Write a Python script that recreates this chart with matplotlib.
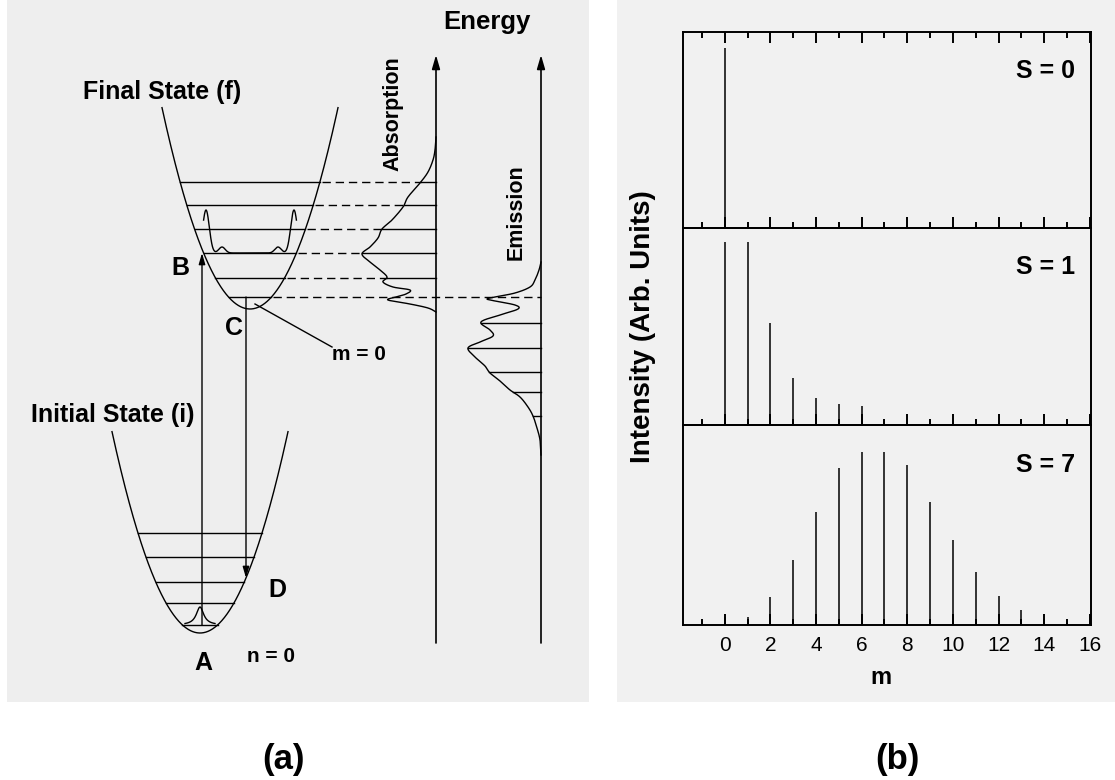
import numpy as np
import matplotlib
matplotlib.use("Agg")
import matplotlib.pyplot as plt
from matplotlib.patches import Rectangle

plt.rcParams['font.family'] = ['Liberation Sans', 'DejaVu Sans']

W, H = 1115, 780

# ---------------- (a) configuration-coordinate diagram ----------------
# x = configuration coordinate Q, y = energy (both in drawing units)
curvature = 0.026
initial_min = (200, 69)
final_min = (250, 393)
parabola_half_width = 88
initial_levels = [77, 99, 120, 145, 169]
final_levels = [405, 424, 449, 473, 497, 520]

absorption_axis_q = 436
emission_axis_q = 541
energy_axis_span = (59, 647)

# absorption band: energy vs. intensity (drawn leftwards from its axis)
absorption_E = [390, 394, 398, 402, 405, 408, 412, 415, 420, 425, 432, 440,
                448, 455, 464, 473, 482, 495, 505, 519, 530, 542, 552, 565]
absorption_I = [0, 8, 26, 48, 40, 30, 26, 43, 53, 49, 56, 66,
                74, 66, 58, 54, 44, 33, 28, 16, 8, 3, 1, 0]

# emission band
emission_E = [247, 262, 274, 286, 295, 305, 312, 321, 329, 336, 345, 354,
              360, 366, 372, 380, 387, 393, 397, 401, 403, 405, 409, 415,
              422, 432, 440]
emission_I = [0, 1, 4, 8, 13, 21, 31, 41, 51, 56, 66, 73,
              61, 48, 51, 60, 41, 23, 26, 46, 54, 46, 26, 11,
              6, 2, 0]
emission_lines = [379, 354, 330, 310, 286]

# probability density drawn on final level index 2
wave_level = 2
wave_offsets = [-44, -28, 28, 44]
wave_heights = [43, 6, 6, 43]
wave_sigma = [3.3, 3.2, 3.2, 3.3]
ground_height = 18
ground_width = 4.5

absorb_q = 202
emit_q = 246


def parabola(q, centre):
    return centre[1] + curvature * (q - centre[0]) ** 2


def branches(E, centre):
    d = np.sqrt((E - centre[1]) / curvature)
    return centre[0] - d, centre[0] + d


def catmull_rom(xs, ys, n=14):
    """Smooth pen-style curve through the given points."""
    P = np.column_stack([xs, ys]).astype(float)
    P = np.vstack([P[0], P, P[-1]])
    t = np.linspace(0, 1, n, endpoint=False)[:, None]
    pieces = []
    for i in range(1, len(P) - 2):
        p0, p1, p2, p3 = P[i - 1], P[i], P[i + 1], P[i + 2]
        pieces.append(0.5 * (2 * p1 + (-p0 + p2) * t
                             + (2 * p0 - 5 * p1 + 4 * p2 - p3) * t ** 2
                             + (-p0 + 3 * p1 - 3 * p2 + p3) * t ** 3))
    pieces.append(P[-2][None])
    out = np.vstack(pieces)
    return out[:, 0], out[:, 1]


fig = plt.figure(figsize=(W / 100, H / 100), dpi=100)
fig.patch.set_facecolor('white')

# page tint behind both panels
fig.add_artist(Rectangle((7 / W, (H - 702) / H), 582 / W, 702 / H,
                         transform=fig.transFigure, facecolor='#eeeeee',
                         edgecolor='none', zorder=0))
fig.add_artist(Rectangle((617 / W, (H - 702) / H), 498 / W, 702 / H,
                         transform=fig.transFigure, facecolor='#f1f1f1',
                         edgecolor='none', zorder=0))

ax = fig.add_axes([7 / W, (H - 702) / H, 582 / W, 702 / H])
ax.set_xlim(7, 589)
ax.set_ylim(0, 702)
ax.axis('off')
ax.patch.set_alpha(0)

lw = 1.0
k = 'black'

for centre in (initial_min, final_min):
    q = np.linspace(centre[0] - parabola_half_width, centre[0] + parabola_half_width, 400)
    ax.plot(q, parabola(q, centre), color=k, lw=lw)

for E in initial_levels:
    ql, qr = branches(E, initial_min)
    ax.plot([ql, qr], [E, E], color=k, lw=lw)

abs_E = np.array(absorption_E)
abs_I = np.array(absorption_I)
em_E = np.array(emission_E)
em_I = np.array(emission_I)

abs_sI, abs_sE = catmull_rom(abs_I, abs_E)
em_sI, em_sE = catmull_rom(em_I, em_E)


def envelope_at(E, sI, sE):
    order = np.argsort(sE)
    return np.interp(E, sE[order], sI[order])


for i, E in enumerate(final_levels):
    ql, qr = branches(E, final_min)
    ax.plot([ql, qr], [E, E], color=k, lw=lw)
    x_env = absorption_axis_q - envelope_at(E, abs_sI, abs_sE)
    if i == 0:
        ax.plot([qr + 2, emission_axis_q], [E, E], color=k, lw=lw, dashes=(6, 3.5))
    else:
        ax.plot([qr + 2, x_env], [E, E], color=k, lw=lw, dashes=(6, 3.5))
        ax.plot([x_env, absorption_axis_q], [E, E], color=k, lw=lw)

for E in emission_lines:
    x_env = emission_axis_q - envelope_at(E, em_sI, em_sE)
    ax.plot([x_env, emission_axis_q], [E, E], color=k, lw=lw)

ax.plot(absorption_axis_q - abs_sI, abs_sE, color=k, lw=lw)
ax.plot(emission_axis_q - em_sI, em_sE, color=k, lw=lw)

# probability densities
E_w = final_levels[wave_level]
ql, qr = branches(E_w, final_min)
qw = np.linspace(ql, qr, 400)
dens = np.zeros_like(qw)
for off, h, s in zip(wave_offsets, wave_heights, wave_sigma):
    dens += h * np.exp(-0.5 * ((qw - final_min[0] - off) / s) ** 2)
ax.plot(qw, E_w + dens, color=k, lw=lw)

E_g = initial_levels[0]
qg = np.linspace(initial_min[0] - 15, initial_min[0] + 15, 200)
ax.plot(qg, E_g + ground_height / (1 + ((qg - initial_min[0]) / ground_width) ** 2),
        color=k, lw=lw)

arrow_head = '-|>,head_length=0.55,head_width=0.16'
for xq in (absorption_axis_q, emission_axis_q):
    ax.annotate('', xy=(xq, energy_axis_span[1]), xytext=(xq, energy_axis_span[0]),
                arrowprops=dict(arrowstyle=arrow_head, lw=1.2, color=k,
                                mutation_scale=15, shrinkA=0, shrinkB=0))

# vertical transitions
ax.annotate('', xy=(absorb_q, final_levels[wave_level]), xytext=(absorb_q, initial_levels[0]),
            arrowprops=dict(arrowstyle=arrow_head, lw=1.0, color=k,
                            mutation_scale=12, shrinkA=0, shrinkB=0))
ax.annotate('', xy=(emit_q, parabola(emit_q, initial_min)), xytext=(emit_q, final_levels[0]),
            arrowprops=dict(arrowstyle=arrow_head, lw=1.0, color=k,
                            mutation_scale=12, shrinkA=0, shrinkB=0))

# m = 0 pointer
ax.plot([255, 332], [398, 355], color=k, lw=lw)

bold = dict(fontweight='bold', color=k, ha='center', va='center')
ax.text(487, 680, 'Energy', fontsize=18.5, **bold)
ax.text(393, 588, 'Absorption', fontsize=15.5, rotation=90, **bold)
ax.text(516, 490, 'Emission', fontsize=15.5, rotation=90, **bold)
ax.text(162, 610, 'Final State (f)', fontsize=18, **bold)
ax.text(113, 287, 'Initial State (i)', fontsize=18, **bold)
ax.text(180, 434, 'B', fontsize=18, **bold)
ax.text(234, 374, 'C', fontsize=18, **bold)
ax.text(277, 112, 'D', fontsize=18, **bold)
ax.text(203, 39, 'A', fontsize=18, **bold)
ax.text(359, 347, 'm = 0', fontsize=15, **bold)
ax.text(271, 46, 'n = 0', fontsize=15, **bold)

# ---------------- (b) Poisson stick spectra ----------------
huang_rhys = ['S = 0', 'S = 1', 'S = 7']
s0_m = [0]
s0_I = [0.92]
s1_m = [0, 1, 2, 3, 4, 5, 6]
s1_I = [0.93, 0.93, 0.52, 0.24, 0.137, 0.107, 0.098]
s7_m = [0, 1, 2, 3, 4, 5, 6, 7, 8, 9, 10, 11, 12, 13, 14, 15]
s7_I = [0.04, 0.04, 0.14, 0.325, 0.565, 0.785, 0.865, 0.865, 0.80, 0.615,
        0.425, 0.265, 0.145, 0.075, 0.03, 0.012]
m_major = [0, 2, 4, 6, 8, 10, 12, 14, 16]
m_minor = [-1, 1, 3, 5, 7, 9, 11, 13, 15]

left_px, right_px = 682.5, 1091
bounds = [(32, 228), (228, 425), (425, 625)]
series = [(s0_m, s0_I), (s1_m, s1_I), (s7_m, s7_I)]

for idx, ((top, bot), (mm, ii), lab) in enumerate(zip(bounds, series, huang_rhys)):
    axb = fig.add_axes([left_px / W, (H - bot) / H, (right_px - left_px) / W, (bot - top) / H])
    axb.patch.set_alpha(0)
    axb.set_xlim(-1.85, 16.05)
    axb.set_ylim(0, 1)
    axb.vlines(mm, 0, ii, color=k, lw=1.1)
    axb.set_yticks([])
    axb.set_xticks(m_major)
    axb.set_xticks(m_minor, minor=True)
    axb.tick_params(axis='x', which='major', direction='in', length=8, width=1.4,
                    top=(idx == 0), labelsize=15, pad=8)
    axb.tick_params(axis='x', which='minor', direction='in', length=4, width=1.4,
                    top=(idx == 0))
    if idx < 2:
        axb.tick_params(axis='x', labelbottom=False)
    for sp in axb.spines.values():
        sp.set_linewidth(1.4)
    axb.text(0.96, 0.80, lab, transform=axb.transAxes, ha='right', va='center',
             fontsize=18, fontweight='bold')

fig.text(643 / W, 1 - 327 / H, 'Intensity (Arb. Units)', rotation=90, ha='center',
         va='center', fontsize=20, fontweight='bold')
fig.text(881 / W, 1 - 677 / H, 'm', ha='center', va='center', fontsize=17,
         fontweight='bold')

fig.text(284 / W, 1 - 760 / H, '(a)', ha='center', va='center', fontsize=25,
         fontweight='bold')
fig.text(897 / W, 1 - 760 / H, '(b)', ha='center', va='center', fontsize=25,
         fontweight='bold')

fig.savefig('out.png', dpi=100, facecolor='white')
